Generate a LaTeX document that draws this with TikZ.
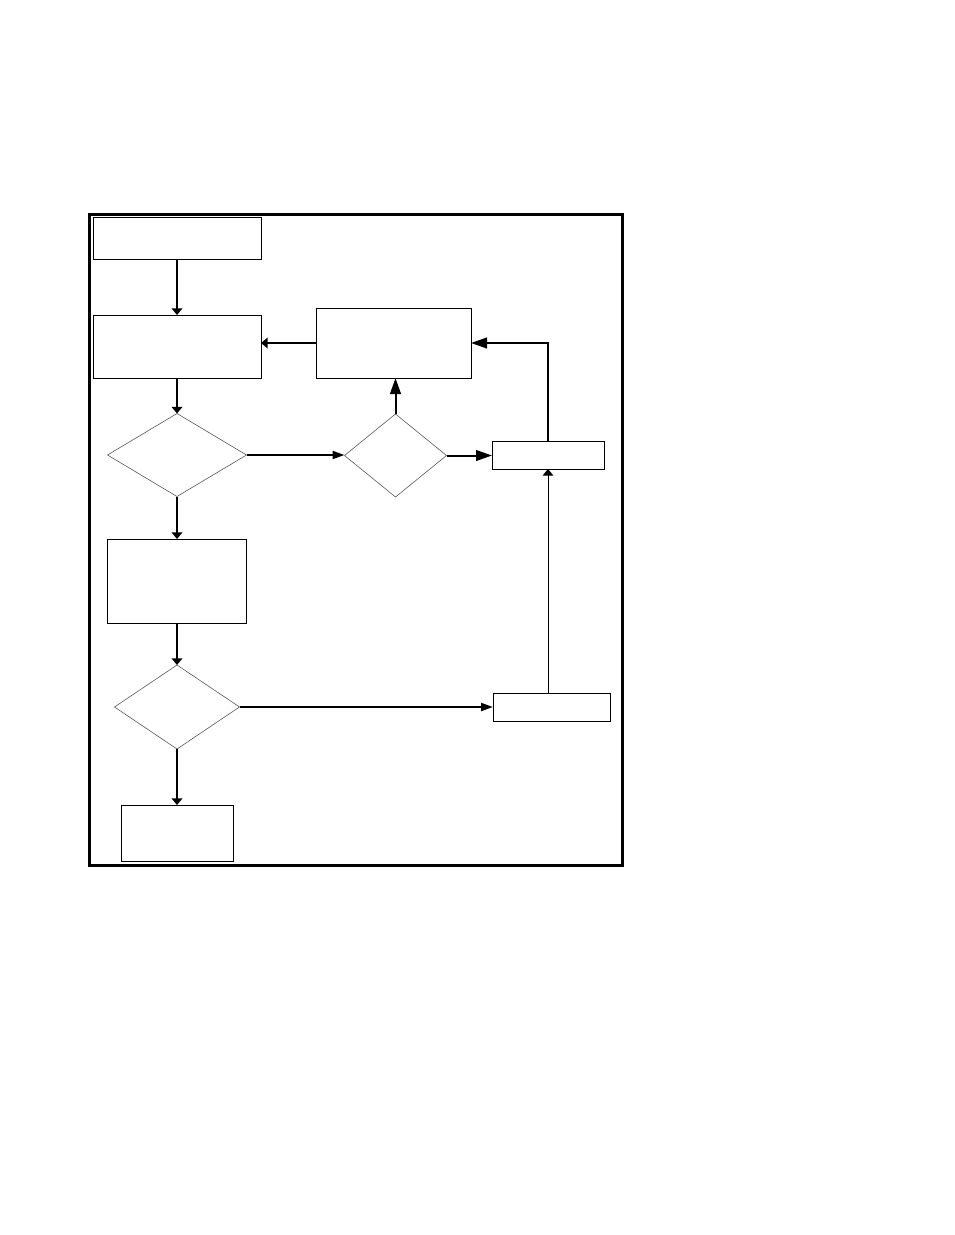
\documentclass[tikz,border=0pt]{standalone}
\usetikzlibrary{shapes.geometric,arrows.meta}
\begin{document}
\begin{tikzpicture}[x=0.75pt,y=-0.75pt,
  box/.style={draw=black,line width=0.75pt,rectangle,inner sep=0pt,outer sep=0pt,fill=white},
  dia/.style={draw=black!65,line width=0.45pt,diamond,inner sep=0pt,outer sep=0pt,fill=white},
  link/.style={line width=1.5pt},
  thinlink/.style={line width=0.75pt},
  smallhead/.style={-{Triangle[width=8pt,length=5pt]}},
  bighead/.style={-{Triangle[width=8pt,length=12pt]}},
  midhead/.style={-{Triangle[width=6pt,length=9pt]}},
  frameline/.style={draw=black,line width=2.25pt}]
\useasboundingbox (0,0) rectangle (954,1235);
\draw[frameline] (89.5,214) rectangle (622,865);

\node[box,minimum width=126pt,minimum height=31.5pt] (b1) at (177,238) {};
\node[box,minimum width=126pt,minimum height=47.25pt] (b2) at (177,346.5) {};
\node[box,minimum width=116.25pt,minimum height=52.5pt] (b3) at (393.5,343) {};
\node[dia,minimum width=104.25pt,minimum height=62.25pt] (d1) at (177,455) {};
\node[dia,minimum width=76.5pt,minimum height=62.25pt] (d2) at (395.5,455.5) {};
\node[box,minimum width=84pt,minimum height=21pt] (b4) at (548,455) {};
\node[box,minimum width=104.25pt,minimum height=63pt] (b5) at (177,581) {};
\node[dia,minimum width=93.75pt,minimum height=63pt] (d3) at (177,707) {};
\node[box,minimum width=84pt,minimum height=42pt] (b6) at (177,833) {};
\node[box,minimum width=87.75pt,minimum height=21pt] (b7) at (551.5,707) {};

\draw[link,smallhead] (b1.south) -- (b2.north);
\draw[link,smallhead] (b2.south) -- (d1.north);
\draw[link,smallhead] (b3.west) -- (b3.west -| b2.east);
\draw[link,midhead] (d1.east) -- (d1.east -| d2.west);
\draw[link,bighead] (d2.north) -- (d2.north |- b3.south);
\draw[link,bighead] (d2.east) -- (d2.east -| b4.west);
\draw[link,bighead] (b4.north) |- (b3.east);
\draw[link,smallhead] (d1.south) -- (b5.north);
\draw[link,smallhead] (b5.south) -- (d3.north);
\draw[link,midhead] (d3.east) -- (d3.east -| b7.west);
\draw[link,smallhead] (d3.south) -- (b6.north);
\draw[thinlink,smallhead] (b4.south |- b7.north) -- (b4.south);
\end{tikzpicture}
\end{document}
